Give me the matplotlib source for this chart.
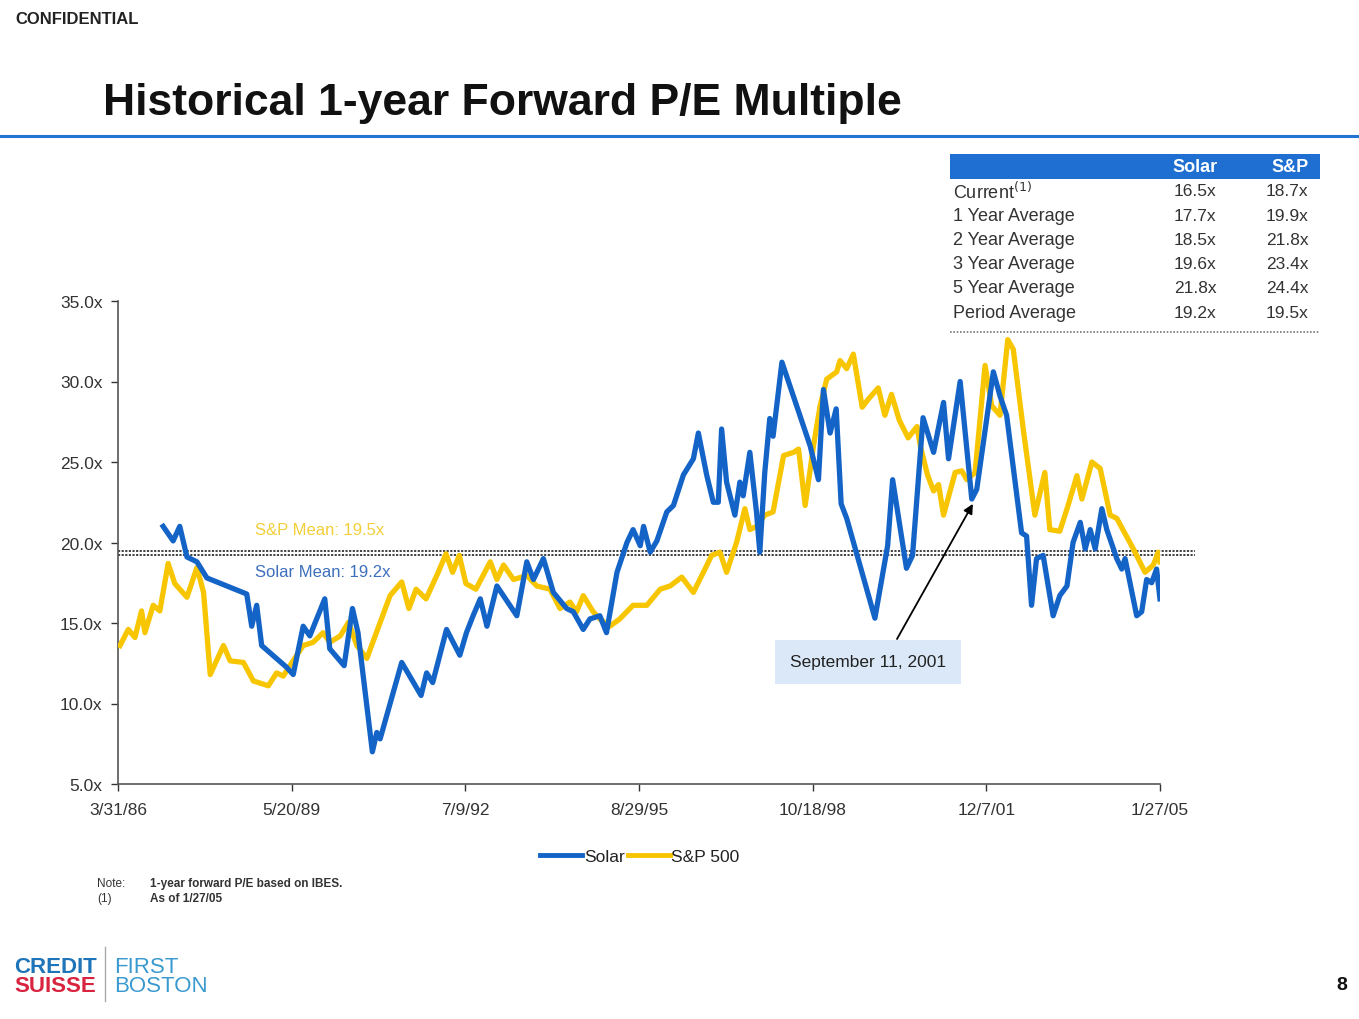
import matplotlib
matplotlib.use("Agg")
import matplotlib.pyplot as plt
from matplotlib.patches import Rectangle
from matplotlib.lines import Line2D

plt.rcParams['font.family'] = ['Liberation Sans', 'DejaVu Sans']

# dates as decimal years, values as P/E multiples
solar_t = [1987.06, 1987.24, 1987.36, 1987.49, 1987.67, 1987.85, 1988.57, 1988.66, 1988.75, 1988.84,
           1989.29, 1989.41, 1989.59, 1989.71, 1989.98, 1990.07, 1990.33, 1990.48, 1990.58, 1990.84,
           1990.92, 1990.98, 1991.37, 1991.72, 1991.82, 1991.93, 1992.18, 1992.42, 1992.54, 1992.66,
           1992.79, 1992.91, 1993.09, 1993.45, 1993.63, 1993.75, 1993.93, 1994.11, 1994.35, 1994.47,
           1994.65, 1994.77, 1994.95, 1995.07, 1995.26, 1995.44, 1995.55, 1995.68, 1995.74, 1995.86,
           1995.98, 1996.16, 1996.28, 1996.46, 1996.64, 1996.73, 1996.88, 1997.00, 1997.09, 1997.15,
           1997.24, 1997.39, 1997.48, 1997.54, 1997.66, 1997.78, 1997.84, 1997.93, 1998.02, 1998.08,
           1998.24, 1998.75, 1998.90, 1998.99, 1999.11, 1999.22, 1999.31, 1999.41, 1999.92, 2000.15,
           2000.24, 2000.49, 2000.60, 2000.79, 2000.98, 2001.16, 2001.25, 2001.46, 2001.67, 2001.76,
           2002.06, 2002.18, 2002.30, 2002.57, 2002.66, 2002.75, 2002.84, 2002.96, 2003.14, 2003.26,
           2003.39, 2003.50, 2003.63, 2003.72, 2003.81, 2003.90, 2004.02, 2004.11, 2004.29, 2004.38,
           2004.44, 2004.65, 2004.74, 2004.83, 2004.92, 2005.01, 2005.07]
solar_pe = [21.0, 20.1, 21.0, 19.1, 18.8, 17.8, 16.8, 14.8, 16.1, 13.6,
            12.25, 11.8, 14.8, 14.2, 16.5, 13.4, 12.35, 15.9, 14.4, 7.0,
            8.2, 7.8, 12.55, 10.5, 11.9, 11.3, 14.6, 13.0, 14.4, 15.45,
            16.5, 14.8, 17.3, 15.45, 18.8, 17.7, 19.0, 16.9, 15.9, 15.7,
            14.6, 15.25, 15.45, 14.4, 18.15, 20.0, 20.8, 19.8, 21.0, 19.4,
            20.1, 21.9, 22.3, 24.2, 25.2, 26.8, 24.2, 22.5, 22.5, 27.05,
            23.75, 21.7, 23.75, 22.9, 25.6, 21.9, 19.4, 24.35, 27.7, 26.6,
            31.2, 26.0, 23.9, 29.5, 26.8, 28.3, 22.4, 21.5, 15.3, 19.8,
            23.9, 18.4, 19.2, 27.75, 25.6, 28.7, 25.2, 30.0, 22.7, 23.3,
            30.6, 29.1, 27.9, 20.6, 20.4, 16.1, 19.0, 19.2, 15.45, 16.7,
            17.3, 20.0, 21.25, 19.6, 20.8, 19.6, 22.1, 20.8, 19.0, 18.35,
            19.0, 15.45, 15.7, 17.7, 17.5, 18.35, 16.5]

sp_t = [1986.28, 1986.43, 1986.55, 1986.67, 1986.73, 1986.88, 1987.00, 1987.15, 1987.27, 1987.49,
        1987.67, 1987.79, 1987.91, 1988.15, 1988.27, 1988.51, 1988.69, 1988.96, 1989.11, 1989.23,
        1989.35, 1989.59, 1989.77, 1989.95, 1990.07, 1990.26, 1990.41, 1990.56, 1990.74, 1991.16,
        1991.37, 1991.50, 1991.63, 1991.81, 1992.03, 1992.17, 1992.29, 1992.41, 1992.53, 1992.71,
        1992.97, 1993.09, 1993.21, 1993.39, 1993.63, 1993.81, 1994.05, 1994.23, 1994.41, 1994.53,
        1994.65, 1994.83, 1994.95, 1995.13, 1995.31, 1995.55, 1995.80, 1996.04, 1996.22, 1996.43,
        1996.64, 1996.85, 1996.97, 1997.12, 1997.24, 1997.42, 1997.57, 1997.66, 1997.78, 1997.93,
        1998.08, 1998.27, 1998.45, 1998.54, 1998.66, 1998.81, 1998.93, 1999.05, 1999.23, 1999.29,
        1999.41, 1999.53, 1999.69, 1999.80, 1999.98, 2000.10, 2000.22, 2000.36, 2000.52, 2000.68,
        2000.74, 2000.87, 2000.98, 2001.07, 2001.16, 2001.37, 2001.49, 2001.58, 2001.73, 2001.91,
        2002.03, 2002.18, 2002.32, 2002.42, 2002.60, 2002.81, 2002.99, 2003.08, 2003.26, 2003.41,
        2003.57, 2003.66, 2003.84, 2003.99, 2004.17, 2004.29, 2004.59, 2004.80, 2004.95, 2005.04,
        2005.07]
sp_pe = [13.6, 14.6, 14.1, 15.75, 14.4, 16.1, 15.75, 18.7, 17.45, 16.6,
         18.45, 16.9, 11.8, 13.6, 12.65, 12.55, 11.4, 11.1, 11.9, 11.7,
         12.35, 13.6, 13.8, 14.4, 13.8, 14.2, 15.05, 13.6, 12.8, 16.7,
         17.55, 15.9, 17.1, 16.5, 18.15, 19.3, 18.15, 19.2, 17.45, 17.1,
         18.8, 17.7, 18.6, 17.7, 17.95, 17.3, 17.1, 15.9, 16.3, 15.7,
         16.7, 15.7, 15.25, 14.8, 15.25, 16.1, 16.1, 17.1, 17.3, 17.85,
         16.9, 18.35, 19.2, 19.4, 18.15, 20.0, 22.1, 20.8, 21.0, 21.7,
         21.9, 25.4, 25.6, 25.8, 22.3, 26.0, 28.5, 30.15, 30.6, 31.3,
         30.8, 31.7, 28.4, 28.9, 29.6, 27.9, 29.2, 27.6, 26.5, 27.2,
         26.0, 24.2, 23.2, 23.6, 21.7, 24.35, 24.45, 23.9, 24.35, 31.0,
         28.5, 27.9, 32.6, 32.0, 27.05, 21.7, 24.35, 20.8, 20.7, 22.3,
         24.15, 22.7, 25.0, 24.6, 21.7, 21.5, 19.6, 18.15, 18.6, 19.4,
         18.8]

solar_mean = 19.2
sp_mean = 19.5

tick_dates = [1986.244, 1989.381, 1992.519, 1995.658, 1998.795, 2001.932, 2005.071]
tick_labels = ['3/31/86', '5/20/89', '7/9/92', '8/29/95', '10/18/98', '12/7/01', '1/27/05']
y_ticks = [5, 10, 15, 20, 25, 30, 35]

table_rows = ['Current', '1 Year Average', '2 Year Average', '3 Year Average',
              '5 Year Average', 'Period Average']
table_solar = ['16.5x', '17.7x', '18.5x', '19.6x', '21.8x', '19.2x']
table_sp = ['18.7x', '19.9x', '21.8x', '23.4x', '24.4x', '19.5x']

sept11 = 2001.69

BLUE = '#1464c8'
YELLOW = '#f7c600'
W, H = 1359, 1020

def fx(px):
    return px / W

def fy(py):
    return 1 - py / H

fig = plt.figure(figsize=(W / 100, H / 100), dpi=100)
ax = fig.add_axes([fx(118), fy(785), 1042 / W, 483 / H])

ax.plot(sp_t, sp_pe, color=YELLOW, lw=3.8, solid_joinstyle='round', label='S&P 500', zorder=3)
ax.plot(solar_t, solar_pe, color=BLUE, lw=3.8, solid_joinstyle='round', label='Solar', zorder=4)

# mean lines, running a bit past the last date
for m in (sp_mean, solar_mean):
    ax.plot([tick_dates[0], 2005.7], [m, m], color='#333333', lw=1.3,
            linestyle=(0, (1.2, 0.8)), clip_on=False, zorder=2)

ax.set_xlim(tick_dates[0], tick_dates[-1])
ax.set_ylim(5, 35)
ax.set_xticks(tick_dates)
ax.set_xticklabels(tick_labels)
ax.set_yticks(y_ticks)
ax.set_yticklabels(['%.1fx' % v for v in y_ticks])
ax.tick_params(axis='both', labelsize=12.5, colors='#333333', length=5, width=1)
ax.tick_params(axis='x', pad=8)
ax.tick_params(axis='y', pad=6)
for s in ('top', 'right'):
    ax.spines[s].set_visible(False)
for s in ('left', 'bottom'):
    ax.spines[s].set_color('#555555')
    ax.spines[s].set_linewidth(1.2)

ax.text(1988.72, 20.8, 'S&P Mean: %.1fx' % sp_mean, va='center',
        color='#f2cf3a', fontsize=12)
ax.text(1988.72, 18.2, 'Solar Mean: %.1fx' % solar_mean, va='center',
        color='#3d6fbd', fontsize=12)

# September 11 call-out
fig.text(fx(868), fy(663), 'September 11, 2001', ha='center', va='center', fontsize=12.5,
         color='#222222',
         bbox=dict(boxstyle='square,pad=0.85', facecolor='#dbe8f7', edgecolor='none'))
ax.annotate('', xy=(sept11, 22.4), xycoords='data',
            xytext=(fx(897), fy(640)), textcoords='figure fraction',
            arrowprops=dict(arrowstyle='-|>', color='black', lw=1.3, mutation_scale=14,
                            shrinkA=0, shrinkB=0))

leg = ax.legend(handles=[Line2D([], [], color=BLUE, lw=3.5), Line2D([], [], color=YELLOW, lw=3.5)],
                labels=['Solar', 'S&P 500'], loc='center', ncol=2,
                bbox_to_anchor=(fx(640), fy(857)), bbox_transform=fig.transFigure,
                frameon=False, fontsize=12.5, handlelength=2.4, handletextpad=0.1,
                columnspacing=0.2)
for t in leg.get_texts():
    t.set_color('#222222')

# header and title
fig.text(fx(15), fy(19), 'CONFIDENTIAL', fontsize=12, fontweight='bold', va='center',
         color='#222222')
fig.text(fx(103), fy(103), 'Historical 1-year Forward P/E Multiple', fontsize=32,
         fontweight='bold', va='center', color='#111111')
fig.add_artist(Line2D([0, 1], [fy(137), fy(137)], transform=fig.transFigure,
                      color='#2274d2', lw=2.2))

# summary table
fig.add_artist(Rectangle((fx(950), fy(180)), 370 / W, 25 / H, transform=fig.transFigure,
                         facecolor='#1f6fd2', edgecolor='none'))
fig.text(fx(1195), fy(167.5), 'Solar', ha='center', va='center', color='white',
         fontsize=13, fontweight='bold')
fig.text(fx(1290), fy(167.5), 'S&P', ha='center', va='center', color='white',
         fontsize=13, fontweight='bold')
for i, (lab, a, b) in enumerate(zip(table_rows, table_solar, table_sp)):
    y = 192 + i * 24.2
    if i == 0:
        lab = lab + '$^{(1)}$'
    fig.text(fx(953), fy(y), lab, va='center', fontsize=13, color='#333333')
    fig.text(fx(1195), fy(y), a, ha='center', va='center', fontsize=12.5, color='#333333')
    fig.text(fx(1287), fy(y), b, ha='center', va='center', fontsize=12.5, color='#333333')
fig.add_artist(Line2D([fx(950), fx(1320)], [fy(333), fy(333)], transform=fig.transFigure,
                      color='#777777', lw=1.2, linestyle=(0, (1, 1))))

# notes
fig.text(fx(97), fy(884), 'Note:', fontsize=8.5, va='center', color='#333333')
fig.text(fx(150), fy(884), '1-year forward P/E based on IBES.', fontsize=8.5, fontweight='bold',
         va='center', color='#333333')
fig.text(fx(97), fy(899), '(1)', fontsize=8.5, va='center', color='#333333')
fig.text(fx(150), fy(899), 'As of 1/27/05', fontsize=8.5, fontweight='bold', va='center',
         color='#333333')

# logo
fig.text(fx(14), fy(968), 'CREDIT', fontsize=16, fontweight='bold', va='center',
         color='#1d74b8')
fig.text(fx(14), fy(987), 'SUISSE', fontsize=16, fontweight='bold', va='center',
         color='#d8243f')
fig.add_artist(Line2D([fx(105), fx(105)], [fy(948), fy(1002)], transform=fig.transFigure,
                      color='#aaaaaa', lw=1))
fig.text(fx(114), fy(968), 'FIRST', fontsize=16, va='center', color='#3a9ad0')
fig.text(fx(114), fy(987), 'BOSTON', fontsize=16, va='center', color='#3a9ad0')

fig.text(fx(1342), fy(986), '8', fontsize=14, fontweight='bold', ha='center', va='center',
         color='#111111')

fig.savefig('out.png', dpi=100)
